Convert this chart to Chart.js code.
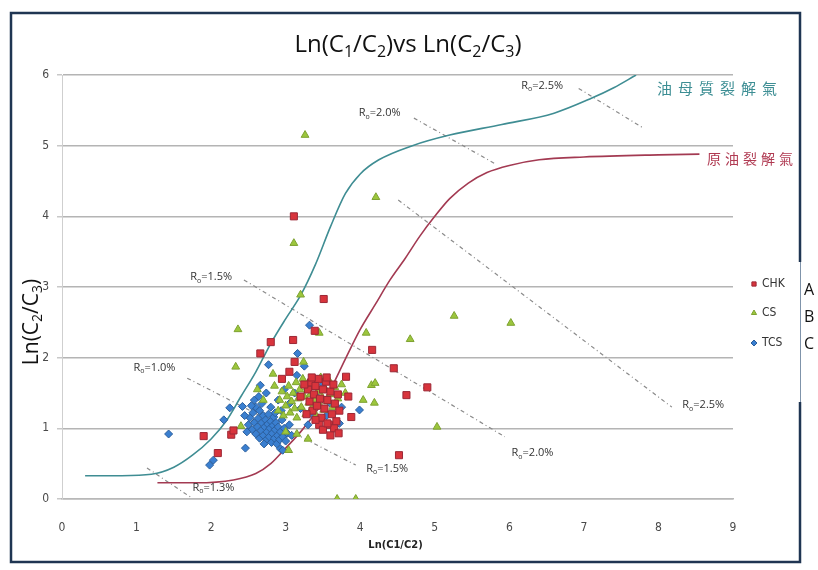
<!DOCTYPE html>
<html>
<head>
<meta charset="utf-8">
<script src="https://cdn.jsdelivr.net/npm/chart.js@4.4.1/dist/chart.umd.min.js"></script>
<style>
  html, body { margin: 0; padding: 0; background: #fff; }
  canvas { display: block; }
</style>
</head>
<body>
<canvas id="chart" width="818" height="570"></canvas>
<script>
// ---- data ----
const xTicks = [0, 1, 2, 3, 4, 5, 6, 7, 8, 9];
const yTicks = [0, 1, 2, 3, 4, 5, 6];

const seriesNames = ["CHK", "CS", "TCS"];

const chkPoints = [
  [3.30,1.55],[3.32,1.38],[3.34,1.65],[3.36,1.25],[3.38,1.48],[3.40,1.60],[3.42,1.32],[3.44,1.70],
  [3.46,1.42],[3.48,1.15],[3.50,1.55],[3.52,1.28],[3.54,1.66],[3.56,1.40],[3.58,1.05],[3.60,1.52],
  [3.62,1.20],[3.64,1.62],[3.66,1.35],[3.68,1.10],[3.70,1.48],[3.72,1.25],[3.35,1.72],[3.45,1.05],
  [3.55,1.72],[3.65,1.00],[3.25,1.62],[3.20,1.45],[3.28,1.20],[3.40,1.12],[3.50,0.98],[3.60,0.90],
  [1.90,0.89],[2.09,0.65],[2.27,0.91],[2.30,0.97],[2.66,2.06],[2.80,2.22],[3.10,2.25],[3.12,1.94],
  [3.39,2.38],[3.11,4.00],[3.51,2.83],[3.71,0.93],[3.56,1.07],[3.81,1.73],[3.84,1.45],[3.88,1.16],
  [4.16,2.11],[4.45,1.85],[4.62,1.47],[4.90,1.58],[4.52,0.62],[2.95,1.70],[3.05,1.80]
];

const csPoints = [
  [2.90,1.25],[2.92,1.40],[2.95,1.52],[2.97,1.18],[3.00,1.32],[3.02,1.45],[3.04,1.60],[3.06,1.22],
  [3.08,1.38],[3.10,1.50],[3.12,1.28],[3.14,1.65],[3.15,1.15],[3.17,1.42],[3.19,1.55],[3.21,1.30],
  [3.23,1.70],[3.25,1.45],[3.27,1.20],[3.29,1.58],[3.31,1.36],[3.33,1.48],[3.35,1.28],[3.37,1.62],
  [3.39,1.40],[3.41,1.18],[3.43,1.52],[3.45,1.34],[3.47,1.72],[3.49,1.44],[3.51,1.26],[3.53,1.56],
  [3.56,1.38],[3.58,1.68],[3.60,1.48],[3.63,1.30],[3.66,1.58],[3.70,1.42],[3.75,1.62],[3.80,1.50],
  [2.83,1.77],[3.24,1.94],[2.40,1.03],[3.04,0.69],[2.36,2.40],[2.33,1.87],[3.45,2.35],[3.20,2.89],
  [3.11,3.62],[3.26,5.15],[4.21,4.27],[4.08,2.35],[4.67,2.26],[5.26,2.59],[6.02,2.49],[4.15,1.61],
  [4.20,1.64],[4.04,1.40],[4.19,1.36],[5.03,1.02],[3.69,0.00],[3.94,0.00],[2.70,1.40],[2.62,1.55],
  [2.85,1.60],[3.00,0.95],[3.30,0.85],[3.15,0.92]
];

const tcsPoints = [
  [1.43,0.92],[1.98,0.48],[2.03,0.55],[2.17,1.12],[2.25,1.29],[2.42,1.31],[2.46,0.72],[2.66,1.61],
  [2.77,1.90],[2.93,0.71],[2.96,0.69],[3.16,2.06],[3.32,2.46],[3.72,1.07],[3.99,1.26],[3.75,1.30],
  [3.55,1.18],
  [2.50,1.05],[2.52,1.15],[2.55,0.98],[2.56,1.22],[2.58,1.08],[2.60,0.92],[2.60,1.30],[2.62,1.02],
  [2.63,1.14],[2.65,0.86],[2.65,1.25],[2.67,0.97],[2.68,1.08],[2.70,1.18],[2.70,0.90],[2.72,1.02],
  [2.73,1.12],[2.74,0.84],[2.75,0.95],[2.76,1.06],[2.77,1.20],[2.78,0.88],[2.79,1.00],[2.80,1.10],
  [2.81,0.80],[2.82,0.93],[2.83,1.04],[2.84,1.16],[2.85,0.86],[2.86,0.98],[2.87,1.08],[2.88,0.78],
  [2.89,0.90],[2.90,1.02],[2.92,0.84],[2.93,0.95],[2.95,1.12],[2.96,0.88],[2.98,1.00],[3.00,0.82],
  [3.02,0.93],[2.58,1.40],[2.68,1.35],[2.80,1.30],[2.94,1.25],[3.05,1.05],[2.45,1.18],[2.48,0.95],
  [2.54,1.32],[2.71,0.78],[2.86,1.22],[2.64,1.45],[2.74,1.50],[2.90,1.40],[3.08,0.90],
  [3.05,1.35],[3.12,1.50],[3.20,1.28],[3.28,1.60],[3.35,1.20],[3.42,1.45],[3.50,1.62],[3.15,1.75],
  [3.25,1.88],[2.98,1.55],[3.60,1.35],[3.30,1.05]
];

// kerogen-cracking and oil-cracking trend curves
const kerogenCurve = [
  [0.31,0.33],[0.80,0.33],[1.20,0.35],[1.50,0.45],[1.75,0.62],[2.00,0.85],[2.20,1.10],[2.40,1.45],
  [2.60,1.80],[2.80,2.20],[3.00,2.55],[3.20,2.88],[3.40,3.32],[3.60,3.85],[3.80,4.32],[4.00,4.60],
  [4.25,4.80],[4.70,5.00],[5.20,5.15],[5.90,5.30],[6.60,5.46],[7.10,5.67],[7.40,5.82],[7.70,6.00]
];
const oilCurve = [
  [1.28,0.23],[1.80,0.23],[2.30,0.27],[2.60,0.36],[2.80,0.50],[3.00,0.72],[3.20,0.95],[3.40,1.22],
  [3.60,1.55],[3.80,1.98],[4.00,2.40],[4.20,2.75],[4.40,3.10],[4.60,3.40],[4.80,3.72],[5.00,4.00],
  [5.20,4.25],[5.45,4.47],[5.70,4.62],[6.00,4.72],[6.40,4.80],[7.00,4.84],[8.00,4.87],[8.55,4.88]
];
const kerogenLabel = "油母質裂解氣";
const oilLabel = "原油裂解氣";

// Ro iso-maturity dashed segments
const roLines = [
  [[1.14,0.44],[1.72,0.03]],
  [[1.68,1.71],[3.94,0.48]],
  [[2.44,3.10],[5.94,0.88]],
  [[4.72,5.39],[5.80,4.75]],
  [[4.51,4.23],[8.18,1.30]],
  [[6.93,5.81],[7.78,5.26]]
];
// [value, x, y] : label left edge / vertical middle in data units
const roLabels = [
  ["=2.5%", 6.16, 5.86],
  ["=2.0%", 3.98, 5.47],
  ["=1.5%", 1.72, 3.15],
  ["=1.0%", 0.96, 1.87],
  ["=1.3%", 1.75, 0.17],
  ["=1.5%", 4.08, 0.44],
  ["=2.0%", 6.03, 0.66],
  ["=2.5%", 8.32, 1.34]
];

const asXY = arr => arr.map(p => ({ x: p[0], y: p[1] }));
const narrow = "'Liberation Sans Narrow', 'DejaVu Sans Condensed', sans-serif";

// text with subscript runs: [text, isSub]
function drawRuns(ctx, runs, x, y, size, family, align, color) {
  const sub = Math.round(size * 0.68);
  let w = 0;
  runs.forEach(r => {
    ctx.font = (r[1] ? sub : size) + "px " + family;
    w += ctx.measureText(r[0]).width;
  });
  let cx = align === "center" ? x - w / 2 : x;
  ctx.fillStyle = color;
  ctx.textBaseline = "alphabetic";
  ctx.textAlign = "left";
  runs.forEach(r => {
    ctx.font = (r[1] ? sub : size) + "px " + family;
    ctx.fillText(r[0], cx, r[1] ? y + size * 0.2 : y);
    cx += ctx.measureText(r[0]).width;
  });
}

function spacedText(ctx, text, x, y, gap) {
  let cx = x;
  for (const ch of text) {
    ctx.fillText(ch, cx, y);
    cx += ctx.measureText(ch).width + gap;
  }
}

const decor = {
  id: "decor",
  afterDraw(chart) {
    const ctx = chart.ctx;
    const xs = chart.scales.x, ys = chart.scales.y;
    ctx.save();

    // outer frame
    ctx.strokeStyle = "#1f3552";
    ctx.lineWidth = 2.5;
    ctx.strokeRect(11, 13, 789, 549);
    ctx.fillStyle = "#fff";
    ctx.fillRect(797, 262, 6, 140);
    ctx.strokeStyle = "#7f93aa";
    ctx.lineWidth = 1;
    ctx.beginPath(); ctx.moveTo(800.5, 262); ctx.lineTo(800.5, 402); ctx.stroke();

    // title
    drawRuns(ctx, [["Ln(C",0],["1",1],["/C",0],["2",1],[")vs Ln(C",0],["2",1],["/C",0],["3",1],[")",0]],
      408, 52, 24, "'Open Sans', sans-serif", "center", "#111");

    // y axis title
    ctx.save();
    ctx.translate(38, 322);
    ctx.rotate(-Math.PI / 2);
    drawRuns(ctx, [["Ln(C",0],["2",1],["/C",0],["3",1],[")",0]], 0, 0, 21, "'Open Sans', sans-serif", "center", "#111");
    ctx.restore();

    // x axis title
    ctx.font = "bold 11px " + narrow;
    ctx.fillStyle = "#222";
    ctx.textAlign = "center";
    ctx.textBaseline = "middle";
    ctx.fillText("Ln(C1/C2)", xs.getPixelForValue(4.5) - 2, 545);

    // Ro labels
    roLabels.forEach(l => {
      const px = xs.getPixelForValue(l[1]), py = ys.getPixelForValue(l[2]) + 4;
      drawRuns(ctx, [["R",0],["o",1],[l[0],0]], px, py, 11, "'Open Sans', sans-serif", "left", "#333");
    });

    // curve labels
    ctx.textAlign = "left";
    ctx.textBaseline = "middle";
    ctx.font = "15px 'Noto Sans CJK TC', sans-serif";
    ctx.fillStyle = "#3d8e94";
    spacedText(ctx, kerogenLabel, xs.getPixelForValue(7.98), ys.getPixelForValue(5.81), 6);
    ctx.fillStyle = "#b03a52";
    ctx.font = "14px 'Noto Sans CJK TC', sans-serif";
    spacedText(ctx, oilLabel, xs.getPixelForValue(8.65), ys.getPixelForValue(4.82), 4);

    // legend
    const legY = [284, 313, 343];
    legY.forEach((ly, i) => {
      const ds = chart.data.datasets[i];
      ctx.fillStyle = ds.backgroundColor;
      ctx.strokeStyle = ds.borderColor;
      ctx.lineWidth = 1;
      Chart.helpers.drawPoint(ctx, { pointStyle: ds.pointStyle, radius: 3, borderWidth: 1 }, 754, ly);
      ctx.font = "12px " + narrow;
      ctx.fillStyle = "#333";
      ctx.textAlign = "left";
      ctx.textBaseline = "middle";
      ctx.fillText(seriesNames[i], 762, ly);
    });

    // side letters
    ctx.font = "16px 'Open Sans', sans-serif";
    ctx.fillStyle = "#111";
    ["A", "B", "C"].forEach((t, i) => ctx.fillText(t, 804, 290 + i * 27));

    ctx.restore();
  }
};

const pointSets = [
  { label: seriesNames[0], data: asXY(chkPoints), pointStyle: "rect", pointRadius: 5,
    backgroundColor: "#d8343c", borderColor: "#9c2836", order: 1 },
  { label: seriesNames[1], data: asXY(csPoints), pointStyle: "triangle", pointRadius: 4.5,
    backgroundColor: "#9cc63c", borderColor: "#7ea232", order: 2 },
  { label: seriesNames[2], data: asXY(tcsPoints), pointStyle: "rectRot", pointRadius: 4,
    backgroundColor: "#3a7fd0", borderColor: "#2b5e9c", order: 3 }
];
pointSets.forEach(d => { d.pointBorderWidth = 1; d.showLine = false; });

const curveSets = [
  { data: asXY(kerogenCurve), borderColor: "#3f8d93" },
  { data: asXY(oilCurve), borderColor: "#a33a52" }
].map(d => Object.assign(d, {
  showLine: true, pointRadius: 0, borderWidth: 1.6, cubicInterpolationMode: "monotone", order: 6
}));

const roSets = roLines.map(seg => ({
  data: asXY(seg), showLine: true, pointRadius: 0, borderWidth: 1.2,
  borderColor: "#8a8a8a", borderDash: [4, 3, 1, 3], order: 7
}));

const chart = new Chart(document.getElementById("chart"), {
  type: "scatter",
  data: { datasets: pointSets.concat(curveSets, roSets) },
  options: {
    responsive: false,
    animation: false,
    layout: { padding: { left: 0, top: 75, right: 85, bottom: 0 } },
    plugins: { legend: { display: false }, tooltip: { enabled: false }, title: { display: false } },
    scales: {
      x: {
        type: "linear", min: 0, max: 9,
        afterFit(s) { s.height = 71; },
        afterBuildTicks(s) { s.ticks = xTicks.map(v => ({ value: v })); },
        grid: { display: false },
        border: { display: true, color: "#b8b8b8", width: 1.5 },
        ticks: { padding: 14, color: "#4a4a4a", font: { size: 12, family: narrow } }
      },
      y: {
        type: "linear", min: 0, max: 6,
        afterFit(s) { s.width = 62; },
        afterBuildTicks(s) { s.ticks = yTicks.map(v => ({ value: v })); },
        grid: { color: "#b4b4b4", lineWidth: 1.5, tickLength: 5, tickColor: "#c8c8c8" },
        border: { display: true, color: "#cfcfcf", width: 1 },
        ticks: { padding: 8, color: "#4a4a4a", font: { size: 12, family: narrow } }
      }
    }
  },
  plugins: [decor]
});
</script>
</body>
</html>
